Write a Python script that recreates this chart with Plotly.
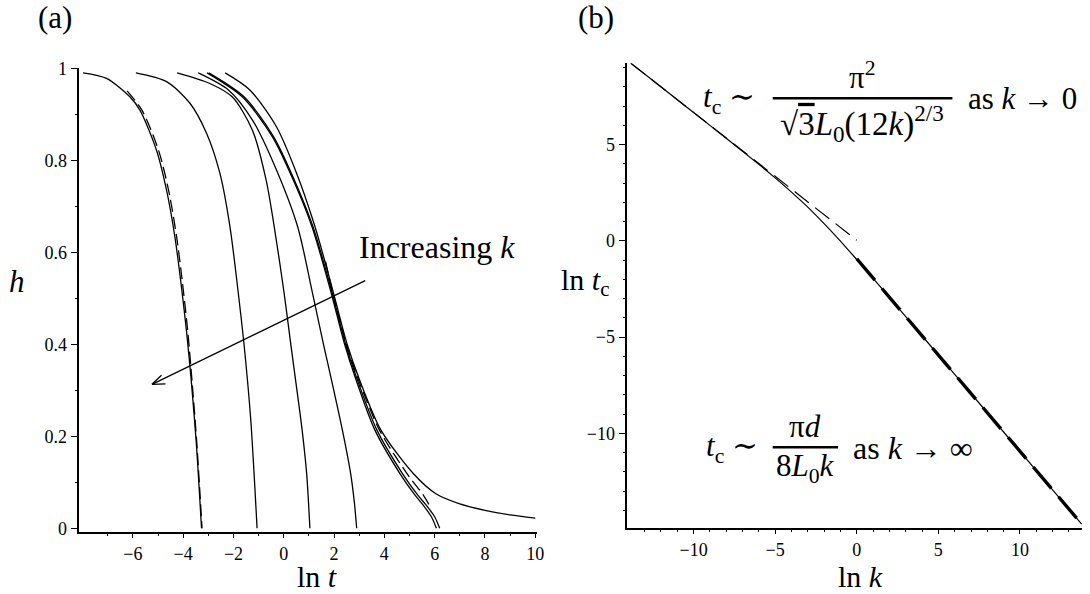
import plotly.graph_objects as go

W, H = 1090, 594
FONT = "Liberation Serif, DejaVu Serif, serif"

# ---------------- Panel (a): h versus ln t ----------------
a_A_lnt = [-7.98, -7.05, -6.12, -5.72, -5.06, -4.66, -4.33, -4.08, -3.87, -3.68, -3.48, -3.27]
a_A_h   = [0.990, 0.978, 0.938, 0.909, 0.822, 0.735, 0.634, 0.530, 0.430, 0.322, 0.187, 0.0]
a_Adash_lnt = [-6.23, -5.64, -4.98, -4.58, -4.26, -4.02, -3.82, -3.65, -3.46, -3.25]
a_Adash_h   = [0.951, 0.909, 0.822, 0.735, 0.634, 0.530, 0.430, 0.322, 0.187, 0.0]
a_B_lnt = [-5.88, -4.66, -3.73, -3.07, -2.54, -2.14, -1.82, -1.58, -1.32, -1.18, -1.06]
a_B_h   = [0.990, 0.971, 0.924, 0.859, 0.772, 0.656, 0.517, 0.400, 0.242, 0.119, 0.0]
a_C_lnt = [-4.24, -2.94, -2.05, -1.25, -0.70, -0.38, 0.0, 0.28, 0.47, 0.73, 0.91, 1.04]
a_C_h   = [0.990, 0.967, 0.938, 0.866, 0.757, 0.656, 0.517, 0.400, 0.322, 0.214, 0.119, 0.0]
a_D_lnt = [-3.40, -2.20, -1.25, -0.40, 0.55, 1.12, 1.58, 1.90, 2.33, 2.66, 2.81, 2.90]
a_D_h   = [0.990, 0.953, 0.888, 0.793, 0.656, 0.517, 0.400, 0.322, 0.214, 0.119, 0.055, 0.0]
a_E1_lnt = [-3.05, -1.65, -0.45, 0.38, 1.12, 1.86, 2.42, 2.88, 3.62, 4.62, 5.22, 5.52, 5.87, 6.07]
a_E1_h   = [0.990, 0.938, 0.851, 0.757, 0.656, 0.517, 0.400, 0.322, 0.214, 0.119, 0.072, 0.052, 0.025, 0.0]
a_E2_lnt = [-2.98, -1.58, -0.40, 0.42, 1.16, 1.90, 2.46, 2.93, 3.70, 4.72, 5.33, 5.64, 6.00, 6.20]
a_E2_h   = [0.990, 0.938, 0.851, 0.757, 0.656, 0.517, 0.400, 0.322, 0.214, 0.119, 0.072, 0.052, 0.025, 0.0]
a_F_lnt = [-2.33, -1.35, -0.29, 0.51, 1.24, 1.95, 2.52, 3.02, 3.86, 5.15, 6.05, 7.00, 8.00, 9.00, 10.0]
a_F_h   = [0.990, 0.953, 0.873, 0.772, 0.656, 0.517, 0.400, 0.322, 0.214, 0.119, 0.075, 0.053, 0.039, 0.029, 0.022]
a_Fdash_lnt = [1.66, 1.93, 2.49, 2.98, 3.80, 4.90, 5.55, 5.81]
a_Fdash_h   = [0.580, 0.517, 0.400, 0.322, 0.214, 0.119, 0.072, 0.048]

a_xticks = [-6, -4, -2, 0, 2, 4, 6, 8, 10]
a_xminor = [-7, -5, -3, -1, 1, 3, 5, 7, 9]
a_yticks = [0, 0.2, 0.4, 0.6, 0.8, 1]
a_yticklabels = ["0", "0.2", "0.4", "0.6", "0.8", "1"]
a_yminor = [0.1, 0.3, 0.5, 0.7, 0.9]

# ---------------- Panel (b): ln t_c versus ln k ----------------
b_lnk  = [-13.84, -12, -10, -8, -6, -5, -4, -3, -2, -1, 0, 1, 2, 4, 8, 12, 13.78]
b_lntc = [9.22, 8.0, 6.66, 5.33, 3.97, 3.27, 2.53, 1.75, 0.89, -0.02, -0.97, -1.95, -2.94, -4.93, -8.93, -12.93, -14.71]
b_small_lnk  = [-13.84, 0.0]
b_small_lntc = [9.22, 0.03]
b_large_lnk  = [0.0, 13.78]
b_large_lntc = [-0.93, -14.71]

b_xticks = [-10, -5, 0, 5, 10]
b_xminor = [v for v in range(-13, 14) if v % 5 != 0]
b_yticks = [-10, -5, 0, 5]
b_yminor = [v for v in range(-14, 10) if v % 5 != 0]


def px(x):
    return x / W


def py(y):
    return 1 - y / H


fig = go.Figure()

solid = dict(color="black", width=1.3)
dashed = dict(color="black", width=1.3, dash="12px,5px")

for xs, ys in [(a_A_lnt, a_A_h), (a_B_lnt, a_B_h), (a_C_lnt, a_C_h), (a_D_lnt, a_D_h),
               (a_E1_lnt, a_E1_h), (a_E2_lnt, a_E2_h), (a_F_lnt, a_F_h)]:
    fig.add_trace(go.Scatter(x=xs, y=ys, mode="lines", line=dict(shape="spline", smoothing=0.8, **solid),
                             xaxis="x", yaxis="y", hoverinfo="skip"))
for xs, ys in [(a_Adash_lnt, a_Adash_h), (a_Fdash_lnt, a_Fdash_h)]:
    fig.add_trace(go.Scatter(x=xs, y=ys, mode="lines", line=dict(shape="spline", smoothing=0.8, **dashed),
                             xaxis="x", yaxis="y", hoverinfo="skip"))

fig.add_trace(go.Scatter(x=b_lnk, y=b_lntc, mode="lines",
                         line=dict(color="black", width=1.2, shape="spline", smoothing=0.6),
                         xaxis="x2", yaxis="y2", hoverinfo="skip"))
fig.add_trace(go.Scatter(x=b_small_lnk, y=b_small_lntc, mode="lines",
                         line=dict(color="black", width=1.2, dash="18px,8px"),
                         xaxis="x2", yaxis="y2", hoverinfo="skip"))
fig.add_trace(go.Scatter(x=b_large_lnk, y=b_large_lntc, mode="lines",
                         line=dict(color="black", width=3.4, dash="28px,11px"),
                         xaxis="x2", yaxis="y2", hoverinfo="skip"))

tickfont = dict(family=FONT, size=18, color="black")
common_axis = dict(showline=True, linecolor="black", linewidth=1.5, showgrid=False, zeroline=False,
                   ticks="outside", tickcolor="black", tickwidth=1.2, tickfont=tickfont, fixedrange=True,
                   automargin=False)
minor_style = dict(ticks="outside", ticklen=3, tickcolor="black", tickwidth=1.2)

fig.update_layout(
    width=W, height=H, autosize=False,
    margin=dict(l=0, r=0, t=0, b=0, pad=0, autoexpand=False),
    paper_bgcolor="white", plot_bgcolor="white", showlegend=False,
    xaxis=dict(domain=[px(79.3), px(537.0)], range=[-8.13, 10.07], anchor="y",
               tickvals=a_xticks, ticklen=5, minor=dict(tickvals=a_xminor, **minor_style), **common_axis),
    yaxis=dict(domain=[py(531.7), py(68.3)], range=[-0.0074, 1.0], anchor="x",
               tickvals=a_yticks, ticktext=a_yticklabels, ticklen=7,
               minor=dict(tickvals=a_yminor, **minor_style), **common_axis),
    xaxis2=dict(domain=[px(627.3), px(1082.3)], range=[-14.06, 13.82], anchor="y2",
                tickvals=b_xticks, ticklen=5, minor=dict(tickvals=b_xminor, **minor_style), **common_axis),
    yaxis2=dict(domain=[py(527.7), py(63.3)], range=[-14.9, 9.22], anchor="x2",
                tickvals=b_yticks, ticklen=7, minor=dict(tickvals=b_yminor, **minor_style), **common_axis),
)

ann = []


def text(x, y, s, size=30, xanchor="center", yanchor="middle"):
    ann.append(dict(x=px(x), y=py(y), xref="paper", yref="paper", text=s, showarrow=False,
                    xanchor=xanchor, yanchor=yanchor, font=dict(family=FONT, size=size, color="black")))


# panel labels and axis titles
text(55, 18, "(a)", size=31)
text(596, 18, "(b)", size=31)
text(17, 282, "<i>h</i>", size=31)
text(317, 576, "ln <i>t</i>", size=30)
text(585, 282, "ln <i>t</i><sub>c</sub>", size=30)
text(860, 576, "ln <i>k</i>", size=30)

# Increasing k
text(357, 247, "Increasing <i>k</i>", size=32, xanchor="left")

# arrow in panel (a)
ann.append(dict(x=-5.24, y=0.313, xref="x", yref="y", ax=3.30, ay=0.54, axref="x", ayref="y",
                text="", showarrow=True, arrowhead=0, arrowwidth=1.3, arrowcolor="black"))
ann.append(dict(x=-5.24, y=0.313, xref="x", yref="y", ax=11, ay=-10.5,
                text="", showarrow=True, arrowhead=0, arrowwidth=1.3, arrowcolor="black"))
ann.append(dict(x=-5.24, y=0.313, xref="x", yref="y", ax=15, ay=-0.5,
                text="", showarrow=True, arrowhead=0, arrowwidth=1.3, arrowcolor="black"))

# formula 1
text(757, 99, "<i>t</i><sub>c</sub> ∼", size=31, xanchor="right")
text(862, 76, "π<sup>2</sup>", size=31)
text(862, 124, "√<span style='text-decoration:overline'>3</span><i>L</i><sub>0</sub>(12<i>k</i>)<sup>2/3</sup>", size=33)
text(966, 99, "as <i>k</i> → 0", size=31, xanchor="left")
# formula 2
text(760, 448, "<i>t</i><sub>c</sub> ∼", size=31, xanchor="right")
text(805, 426, "π<i>d</i>", size=31)
text(805, 468, "8<i>L</i><sub>0</sub><i>k</i>", size=31)
text(851, 448, "as <i>k</i> → ∞", size=32, xanchor="left")

fig.update_layout(annotations=ann)

shapes = [
    dict(type="line", xref="paper", yref="paper", x0=px(772.7), x1=px(952.4), y0=py(98.3), y1=py(98.3),
         line=dict(color="black", width=2.6)),
    dict(type="line", xref="paper", yref="paper", x0=px(772.7), x1=px(838.0), y0=py(447.3), y1=py(447.3),
         line=dict(color="black", width=2.6)),
]
fig.update_layout(shapes=shapes)

fig.write_html("out.html", config={"displayModeBar": False},
               post_script="document.body.style.margin='0px';")
